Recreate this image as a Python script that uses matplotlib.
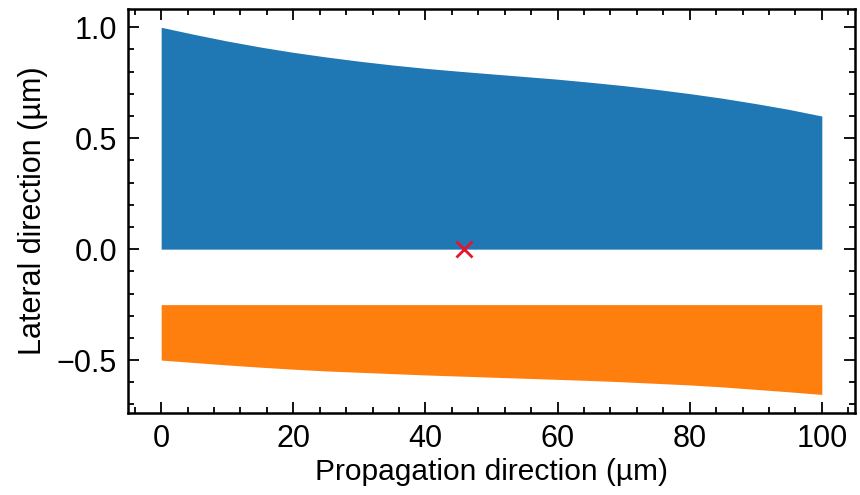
import matplotlib
matplotlib.use("Agg")
import matplotlib.pyplot as plt
import numpy as np
from matplotlib.ticker import MultipleLocator

plt.rcParams['font.family'] = ['Liberation Sans', 'DejaVu Sans']

# Data
x = [0, 5, 10, 15, 20, 25, 30, 35, 40, 45, 50, 55, 60, 65, 70, 75, 80, 85, 90, 95, 100]
blue_top = [1.0, 0.968, 0.938, 0.911, 0.887, 0.866, 0.847, 0.83, 0.815, 0.802, 0.79,
            0.778, 0.766, 0.752, 0.737, 0.72, 0.701, 0.68, 0.656, 0.63, 0.60]
blue_bottom = [0.0] * len(x)
orange_top = [-0.25] * len(x)
orange_bottom = [-0.50, -0.511, -0.522, -0.532, -0.541, -0.549, -0.555, -0.561, -0.567, -0.572,
                 -0.577, -0.582, -0.587, -0.592, -0.598, -0.605, -0.612, -0.621, -0.632, -0.643, -0.655]
marker_x = [45.8]
marker_y = [0.0]

fig = plt.figure(figsize=(8.6, 4.95), dpi=100)
ax = fig.add_axes([0.149, 0.166, 0.845, 0.816])

ax.fill_between(x, blue_bottom, blue_top, color='#1f77b4', linewidth=0)
ax.fill_between(x, orange_bottom, orange_top, color='#ff7f0e', linewidth=0)
ax.plot(marker_x, marker_y, 'x', color='#e8132b', markersize=12, markeredgewidth=2)

ax.set_xlabel('Propagation direction (µm)', fontsize=21.5, labelpad=3)
ax.set_ylabel('Lateral direction (µm)', fontsize=22, labelpad=6)

ax.xaxis.set_major_locator(MultipleLocator(20))
ax.xaxis.set_minor_locator(MultipleLocator(4))
ax.yaxis.set_major_locator(MultipleLocator(0.5))
ax.yaxis.set_minor_locator(MultipleLocator(0.1))
ax.tick_params(which='both', direction='in', top=True, right=True, labelsize=22, width=1.3)
ax.tick_params(which='major', length=8, pad=8)
ax.tick_params(which='minor', length=4)
for s in ax.spines.values():
    s.set_linewidth(1.8)

fig.savefig('out.png', dpi=100)
